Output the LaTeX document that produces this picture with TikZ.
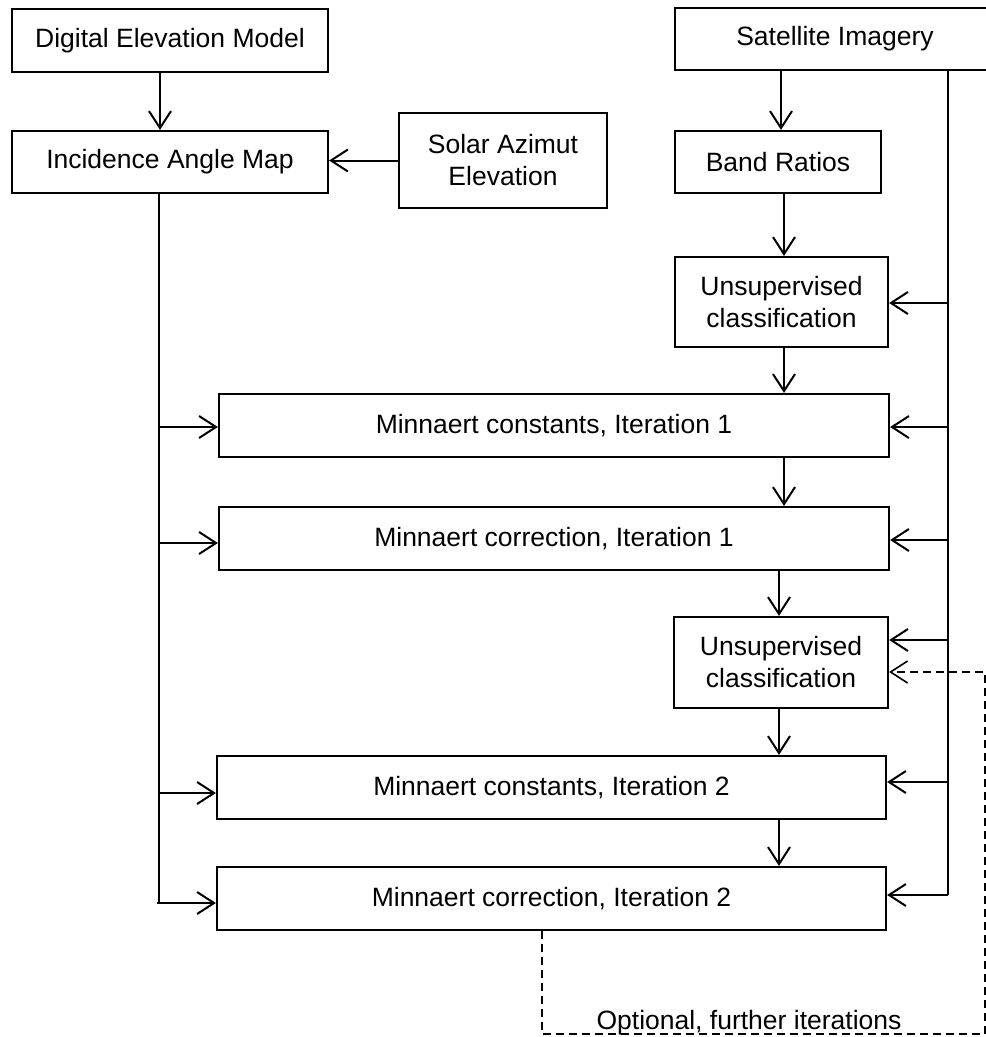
\documentclass[tikz,border=0pt]{standalone}
\usepackage{fontspec}
\setmainfont{Liberation Sans}
\usetikzlibrary{arrows.meta,calc}
\begin{document}
\begin{tikzpicture}[x=1pt,y=-1pt,
  box/.style={draw,line width=2.2pt,inner sep=0pt,align=center,font=\fontsize{26.5}{32}\selectfont},
  conn/.style={line width=2pt,-{Straight Barb[length=17pt,width=22pt]}},
  line/.style={line width=2pt},
  dconn/.style={line width=1.4pt,dash pattern=on 8pt off 5pt,-{Straight Barb[length=17pt,width=22pt,line width=1.6pt]}}
]
\useasboundingbox (0,0) rectangle (986,1037);
% boxes
\node[box,minimum width=316pt,minimum height=63pt] (dem) at (170,40.5) {Digital Elevation Model};
\node[box,minimum width=316pt,minimum height=62pt] (iam) at (170,162) {Incidence Angle Map};
\node[box,minimum width=208pt,minimum height=95pt] (sol) at (503,160.5) {Solar Azimut\\Elevation};
\node[box,minimum width=320pt,minimum height=62pt] (sat) at (835,39) {Satellite Imagery};
\node[box,minimum width=206pt,minimum height=62pt] (band) at (778,162) {Band Ratios};
\node[box,minimum width=213pt,minimum height=90pt] (un1) at (781.5,302) {Unsupervised\\classification};
\node[box,minimum width=670pt,minimum height=63pt] (mc1) at (554,425.5) {Minnaert constants, Iteration 1};
\node[box,minimum width=670pt,minimum height=63pt] (mr1) at (554,538.5) {Minnaert correction, Iteration 1};
\node[box,minimum width=214pt,minimum height=91pt] (un2) at (781,662.5) {Unsupervised\\classification};
\node[box,minimum width=669pt,minimum height=63pt] (mc2) at (551.5,787.5) {Minnaert constants, Iteration 2};
\node[box,minimum width=669pt,minimum height=63pt] (mr2) at (551.5,898.5) {Minnaert correction, Iteration 2};
\node[anchor=base,inner sep=0pt,font=\fontsize{26.5}{32}\selectfont] (opt) at (749,1029) {Optional, further iterations};
% helper coordinates
\coordinate (lbus) at (159,0);
\coordinate (cA) at (781,0);
\coordinate (cB) at (784,0);
\coordinate (cC) at (779,0);
\coordinate (l1) at (159,427);
\coordinate (l2) at (159,543);
\coordinate (l3) at (159,793);
\coordinate (l4) at (157,903);
\coordinate (rbus) at (948,0);
\coordinate (r1) at (948,303);
\coordinate (r2) at (948,427);
\coordinate (r3) at (948,540);
\coordinate (r4) at (948,640);
\coordinate (r5) at (948,782);
\coordinate (r6) at (948,895);
\coordinate (d0) at (542,0);
\coordinate (d1) at (542,1034);
\coordinate (d2) at (985,1034);
\coordinate (d3) at (985,672);
% left column
\draw[conn] (dem.south -| l4) ++(3,0) -- ($(iam.north -| l4)+(3,0)$);
\draw[conn] (sol.west) -- (sol.west -| iam.east);
\draw[line] (iam.south -| lbus) -- (lbus |- l4);
\draw[conn] (l1) -- (l1 -| mc1.west);
\draw[conn] (l2) -- (l2 -| mr1.west);
\draw[conn] (l3) -- (l3 -| mc2.west);
\draw[conn] (l4) -- (l4 -| mr2.west);
% right column
\draw[conn] (sat.south -| cA) -- (band.north -| cA);
\draw[conn] (band.south -| cB) -- (un1.north -| cB);
\draw[conn] (un1.south -| cB) -- (mc1.north -| cB);
\draw[conn] (mc1.south -| cB) -- (mr1.north -| cB);
\draw[conn] (mr1.south -| cC) -- (un2.north -| cC);
\draw[conn] (un2.south -| cC) -- (mc2.north -| cC);
\draw[conn] (mc2.south -| cC) -- (mr2.north -| cC);
\draw[line] (sat.south -| rbus) -- (r6);
\draw[conn] (r1) -- (r1 -| un1.east);
\draw[conn] (r2) -- (r2 -| mc1.east);
\draw[conn] (r3) -- (r3 -| mr1.east);
\draw[conn] (r4) -- (r4 -| un2.east);
\draw[conn] (r5) -- (r5 -| mc2.east);
\draw[conn] (r6) -- (r6 -| mr2.east);
% dashed feedback loop
\draw[dconn] (mr2.south -| d0) -- (d1) -- (d2) -- (d3) -- (d3 -| un2.east);
\end{tikzpicture}
\end{document}
